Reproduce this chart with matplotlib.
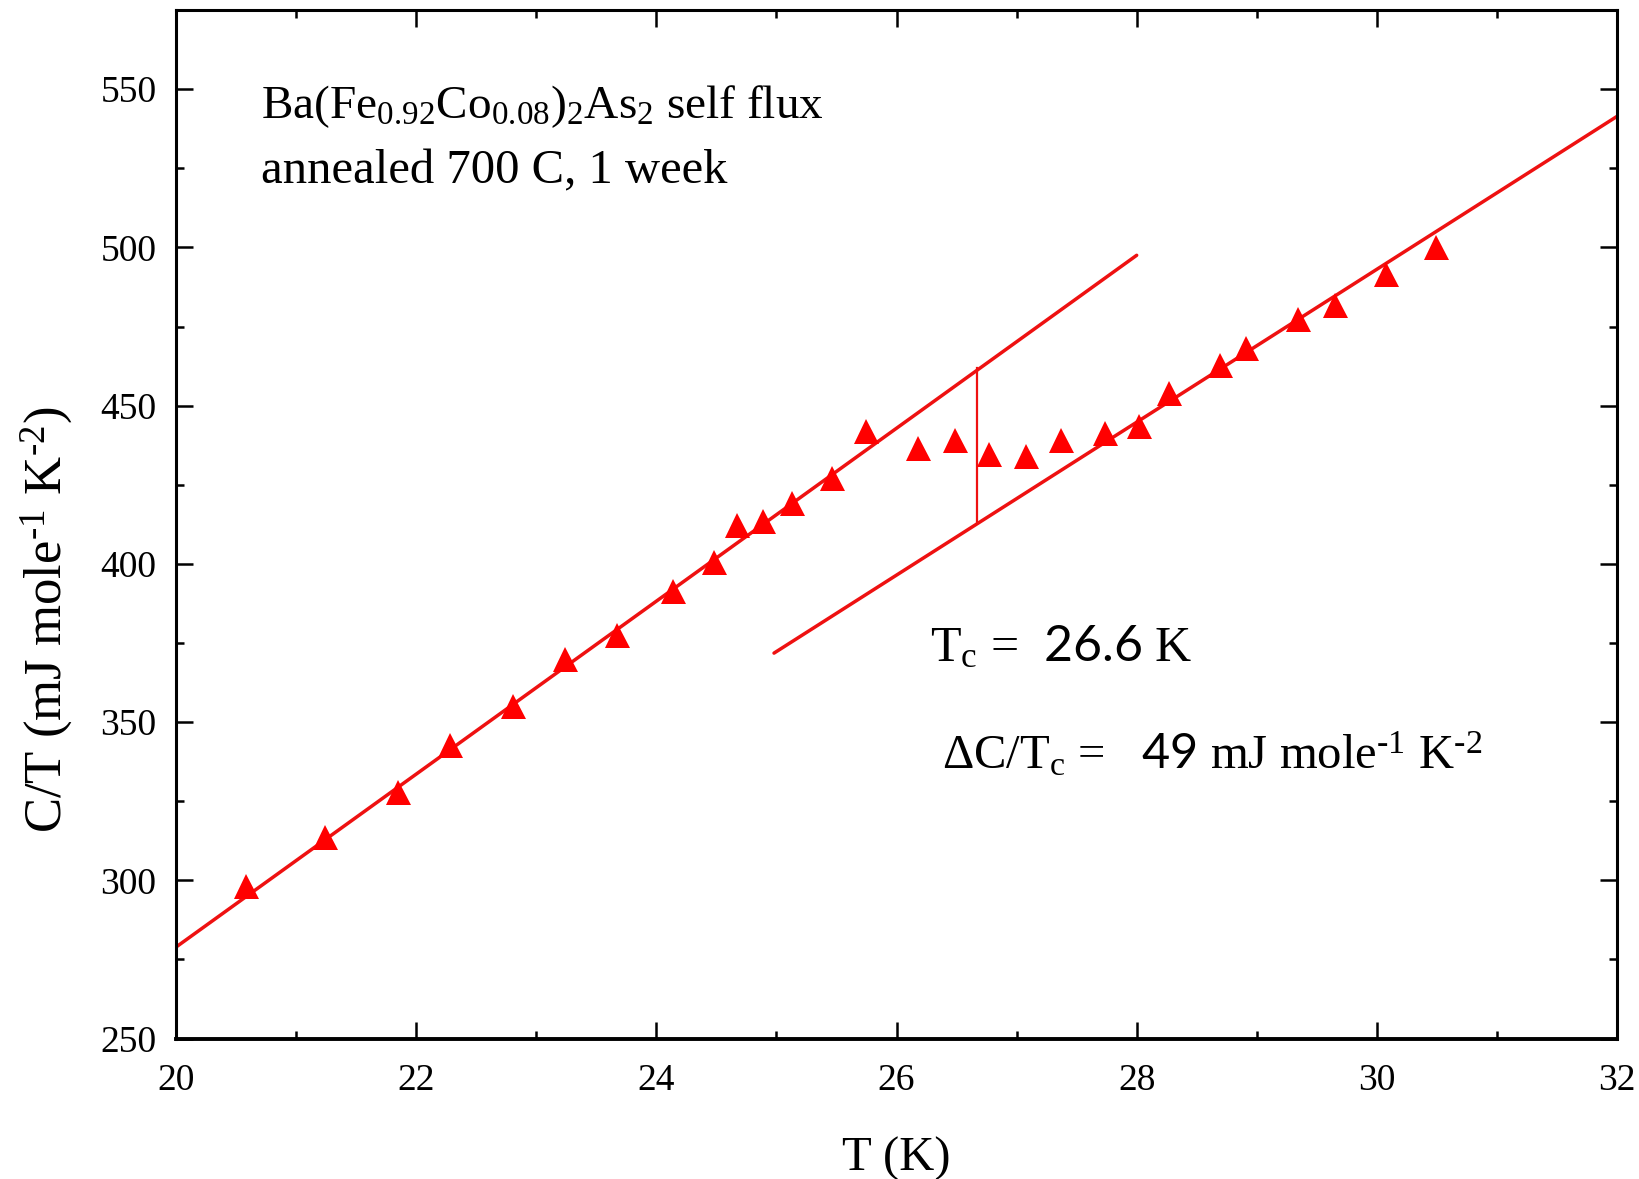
import numpy as np
import matplotlib
matplotlib.use("Agg")
import matplotlib.pyplot as plt
from matplotlib.ticker import MultipleLocator

# measured specific heat C/T vs T
temp = [20.58, 21.24, 21.85, 22.28, 22.81, 23.24, 23.67, 24.14, 24.48, 24.67,
        24.89, 25.13, 25.46, 25.75, 26.18, 26.49, 26.77, 27.08, 27.37, 27.74,
        28.02, 28.27, 28.69, 28.91, 29.34, 29.65, 30.08, 30.49]
c_over_t = [298.2, 313.8, 328.0, 342.9, 355.1, 370.0, 377.6, 391.4, 400.7, 412.3,
            413.6, 419.2, 427.1, 442.0, 436.7, 439.0, 434.7, 434.1, 439.0, 441.3,
            443.6, 453.9, 462.8, 468.1, 477.4, 481.7, 491.6, 500.2]

# linear fits (superconducting and normal state) and the jump at Tc
fit_sc_t = [20.0, 28.0]
fit_sc_c = [278.9, 497.5]
fit_n_t = [24.98, 32.0]
fit_n_c = [371.8, 541.4]
tc = 26.67
jump_c = [412.8, 461.8]

plt.rcParams['font.family'] = ['Liberation Serif', 'DejaVu Serif']
plt.rcParams['mathtext.fontset'] = 'custom'
plt.rcParams['mathtext.rm'] = 'Liberation Serif'
plt.rcParams['mathtext.it'] = 'Liberation Serif:italic'
plt.rcParams['mathtext.bf'] = 'Liberation Serif:bold'
plt.rcParams['mathtext.sf'] = 'Lato'

red = '#ee1111'

fig = plt.figure(figsize=(16.4, 11.79), dpi=100)
ax = fig.add_axes([0.1073, 0.1191, 0.8787, 0.8724])

ax.plot(fit_sc_t, fit_sc_c, color=red, lw=2.5, solid_capstyle='round')
ax.plot(fit_n_t, fit_n_c, color=red, lw=2.5, solid_capstyle='round')
ax.plot([tc, tc], jump_c, color=red, lw=1.6)
ax.plot(temp, c_over_t, linestyle='none', marker='^', markersize=18,
        color='#ff0000', markeredgewidth=0)

ax.set_xlim(20, 32)
ax.set_ylim(250, 575)
ax.xaxis.set_major_locator(MultipleLocator(2))
ax.xaxis.set_minor_locator(MultipleLocator(1))
ax.yaxis.set_major_locator(MultipleLocator(50))
ax.yaxis.set_minor_locator(MultipleLocator(25))

ax.tick_params(which='both', direction='in', top=True, right=True, width=1.8)
ax.tick_params(which='major', length=12, labelsize=27)
ax.tick_params(which='minor', length=6)
ax.tick_params(axis='x', which='major', pad=18)
ax.tick_params(axis='y', which='major', pad=14)
for s in ax.spines.values():
    s.set_linewidth(2.2)
ax.spines['bottom'].set_linewidth(2.8)

ax.set_xlabel('T (K)', fontsize=35, labelpad=28)
ax.set_ylabel(r'C/T (mJ mole$^{\text{-1}}$ K$^{\text{-2}}$)', fontsize=38,
              va='center')
ax.yaxis.set_label_coords(-0.0895, 0.407)

ax.text(20.71, 541, r'Ba(Fe$_{\rm 0.92}$Co$_{\rm 0.08}$)$_{\rm 2}$As$_{\rm 2}$ self flux',
        fontsize=34, ha='left', va='baseline')
ax.text(20.71, 520.2, 'annealed 700 C, 1 week', fontsize=35, ha='left', va='baseline')

ax.text(26.28, 369.3, r'T$_{\rm c}$ =  $\mathsf{26.6}$ K', fontsize=36,
        ha='left', va='baseline')
ax.text(26.38, 335.2, r'$\Delta$C/T$_{\rm c}$ =   $\mathsf{49}$ mJ mole$^{\text{-1}}$ K$^{\text{-2}}$',
        fontsize=35, ha='left', va='baseline')

fig.savefig('out.png', dpi=100)
